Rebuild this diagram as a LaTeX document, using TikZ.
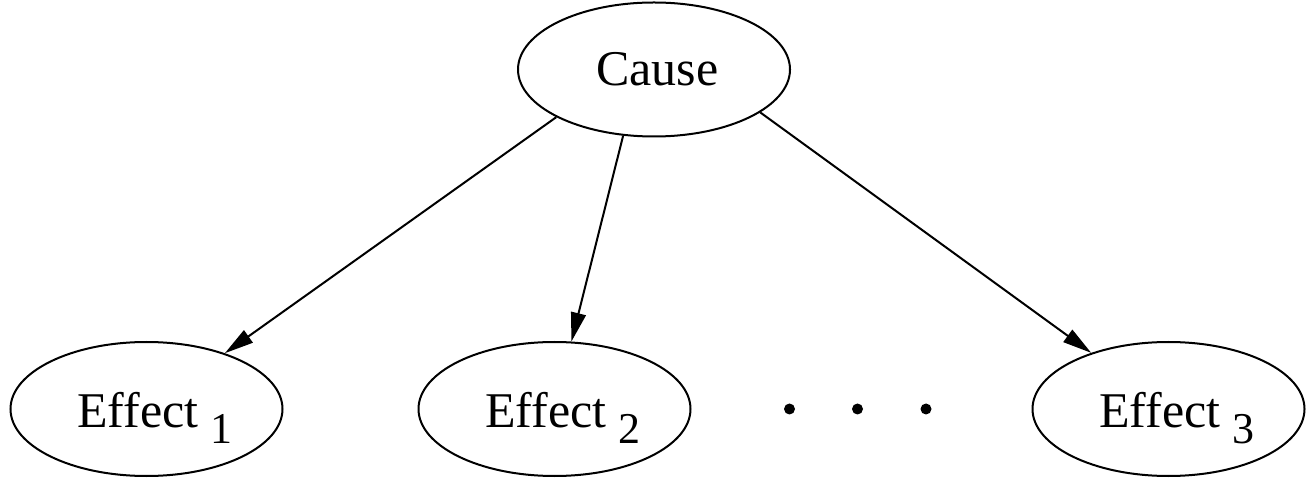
\documentclass[tikz,border=0pt]{standalone}
\usepackage{fontspec}
\setmainfont{Liberation Serif}
\usetikzlibrary{arrows.meta,shapes.geometric}
\begin{document}
\begin{tikzpicture}[x=1pt,y=1pt,
  oval/.style={draw=black,line width=2pt,ellipse,inner sep=0pt,
    minimum width=272pt,minimum height=134pt,
    font=\fontsize{50}{60}\selectfont,text height=36pt,text depth=0pt},
  link/.style={line width=2pt,-{Triangle[length=29pt,width=15pt]}},
  dot/.style={circle,fill=black,inner sep=0pt,minimum size=11pt}]
\useasboundingbox (0,0) rectangle (1316,479);
\newcommand{\subsc}[1]{\raisebox{-16pt}{\fontsize{44}{48}\selectfont #1}}
\node[oval,text height=33pt] (cause) at (654,409.5) {\hspace*{7pt}Cause};
\node[oval] (e1) at (146.5,70) {\hspace*{17pt}Effect\ \subsc{1}};
\node[oval] (e2) at (554.5,70) {\hspace*{17pt}Effect\ \subsc{2}};
\node[oval] (e3) at (1168.5,70) {\hspace*{17pt}Effect\ \subsc{3}};
\node[dot] (d1) at (789.5,70) {};
\node[dot] (d2) at (857.5,70) {};
\node[dot] (d3) at (926,70) {};
\draw[link] (cause.206.6) -- (e1);
\draw[link] (cause.245.3) -- (e2);
\draw[link] (cause.338.3) -- (e3);
\end{tikzpicture}
\end{document}
